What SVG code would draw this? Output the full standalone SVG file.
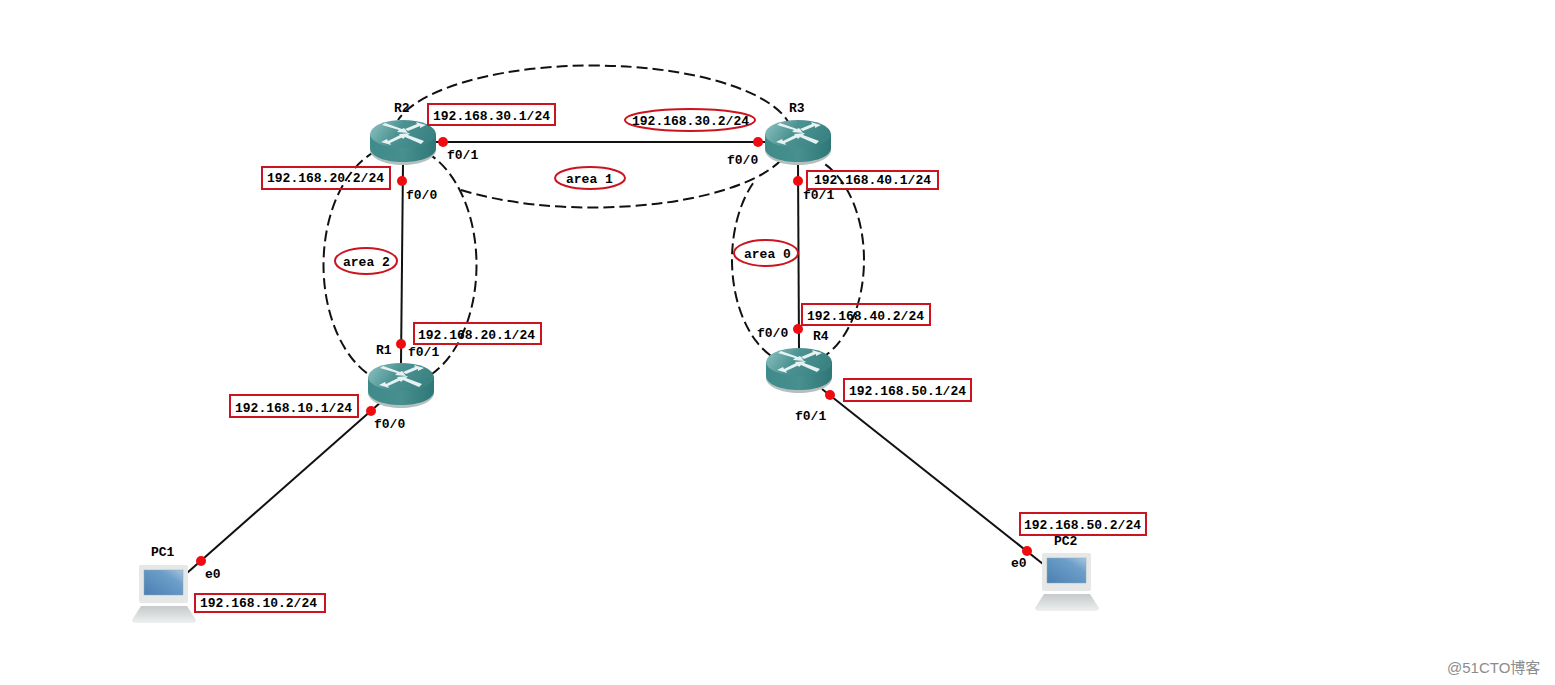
<svg xmlns="http://www.w3.org/2000/svg" width="1555" height="685" viewBox="0 0 1555 685">
<style>
text{font-family:"Liberation Mono","DejaVu Sans Mono",monospace;font-size:13px;font-weight:700;fill:#000}
.ip{fill:none;stroke:#cc1420;stroke-width:2}
.dash{fill:none;stroke:#111;stroke-width:2;stroke-dasharray:11 5}
.link{stroke:#111;stroke-width:2;fill:none}
.dot{fill:#ee0c10}
text.wm{font-family:"Liberation Sans","Noto Sans CJK SC",sans-serif;font-size:15px;font-weight:400;fill:#8c8c8c}
</style>
<defs>
<linearGradient id="rtop" x1="0" y1="0" x2="1" y2="0.3"><stop offset="0" stop-color="#8fc4c4"/><stop offset="0.5" stop-color="#4d9292"/><stop offset="1" stop-color="#3b8383"/></linearGradient>
<linearGradient id="rside" x1="0" y1="0" x2="1" y2="0"><stop offset="0" stop-color="#3f8a8a"/><stop offset="0.5" stop-color="#488f8f"/><stop offset="1" stop-color="#2f7676"/></linearGradient>
<linearGradient id="screen" x1="0" y1="1" x2="1" y2="0"><stop offset="0" stop-color="#4a7fb0"/><stop offset="0.7" stop-color="#6e9fca"/><stop offset="1" stop-color="#a9c6de"/></linearGradient>
<linearGradient id="base" x1="0" y1="0" x2="0" y2="1"><stop offset="0" stop-color="#c6caca"/><stop offset="1" stop-color="#eef0f0"/></linearGradient>
<g id="router">
<path d="M0,14 V29 C0,37 14,44 33,44 C52,44 66,37 66,29 V14Z" fill="#b4c0c0" transform="translate(0,1)"/>
<path d="M0,14 V28 C0,36 14,42 33,42 C52,42 66,36 66,28 V14Z" fill="url(#rside)"/>
<ellipse cx="33" cy="14" rx="33" ry="14" fill="url(#rtop)"/>
<path d="M12,5 L29,10 L27,12 L38,13 L34,8 L32,9 L15,3Z M56,5 L46,2 L47,4 L35,9 L38,11 L50,6 L50,8Z M11,22 L21,25 L20,23 L33,17 L30,15 L18,21 L17,19Z M54,21 L38,15 L40,13 L29,14 L33,19 L35,17 L51,24Z" fill="#e6f2f2"/>
</g>
<g id="pc">
<rect x="7" y="0" width="49" height="38" rx="2" fill="#e6e8e8"/>
<rect x="12" y="5" width="39" height="25" fill="url(#screen)" stroke="#8ea6b8" stroke-width="0.5"/>
<path d="M9,41 H55 L64,55 Q64,58 60,58 H4 Q0,58 0,55Z" fill="url(#base)"/>
</g>
</defs>
<rect width="1555" height="685" fill="#fff"/>
<g id="connectors">
<path class="dash" d="M461,190 A200 71 0 1 0 398,120"/>
<ellipse class="dash" cx="400" cy="265" rx="76.500" ry="120"/>
<path class="dash" d="M753,183.200 A66 105 0 1 0 822,162.200"/>
<path class="link" d="M436,142 H765"/>
<path class="link" d="M403,163 L401,363"/>
<path class="link" d="M798,163 L799,348"/>
<path class="link" d="M381,402 L187,573"/>
<path class="link" d="M822,389 L1043,564"/>
</g>
<g id="R2"><use href="#router" x="370" y="120"/><text x="394" y="112">R2</text></g>
<g id="R3"><use href="#router" x="765" y="120"/><text x="789" y="112">R3</text></g>
<g id="R1"><use href="#router" x="368" y="363"/><text x="376" y="354">R1</text></g>
<g id="R4"><use href="#router" x="766" y="348"/><text x="813" y="340">R4</text></g>
<g id="PC1"><use href="#pc" x="132" y="565"/><text x="151" y="556">PC1</text></g>
<g id="PC2"><use href="#pc" x="1035" y="553"/><text x="1054" y="545">PC2</text></g>
<g id="dots">
<circle class="dot" cx="443" cy="142" r="5"/><circle class="dot" cx="758" cy="142" r="5"/>
<circle class="dot" cx="402" cy="181" r="5"/><circle class="dot" cx="401" cy="344" r="5"/>
<circle class="dot" cx="371" cy="411" r="5"/><circle class="dot" cx="201" cy="561" r="5"/>
<circle class="dot" cx="798" cy="181" r="5"/><circle class="dot" cx="798" cy="329" r="5"/>
<circle class="dot" cx="830" cy="395" r="5"/><circle class="dot" cx="1027" cy="551" r="5"/>
</g>
<g id="ports">
<text x="447" y="159">f0/1</text><text x="406" y="199">f0/0</text>
<text x="408" y="356">f0/1</text><text x="374" y="428">f0/0</text>
<text x="205" y="578">e0</text><text x="727" y="164">f0/0</text>
<text x="803" y="199">f0/1</text><text x="757" y="337">f0/0</text>
<text x="795" y="420">f0/1</text><text x="1011" y="567">e0</text>
</g>
<g id="addresses">
<rect class="ip" x="428" y="104" width="127" height="21"/><text x="433" y="120">192.168.30.1/24</text>
<rect class="ip" x="262" y="167" width="128" height="22"/><text x="267" y="182">192.168.20.2/24</text>
<rect class="ip" x="414" y="323" width="127" height="21"/><text x="418" y="339">192.168.20.1/24</text>
<rect class="ip" x="230" y="395" width="128" height="22"/><text x="235" y="412">192.168.10.1/24</text>
<rect class="ip" x="195" y="594" width="130" height="18"/><text x="200" y="607">192.168.10.2/24</text>
<rect class="ip" x="807" y="171" width="131" height="18"/><text x="814" y="184">192.168.40.1/24</text>
<rect class="ip" x="802" y="304" width="128" height="21"/><text x="807" y="320">192.168.40.2/24</text>
<rect class="ip" x="844" y="379" width="127" height="22"/><text x="849" y="395">192.168.50.1/24</text>
<rect class="ip" x="1020" y="513" width="126" height="22"/><text x="1024" y="529">192.168.50.2/24</text>
<ellipse class="ip" cx="690" cy="120" rx="65" ry="11"/><text x="632" y="125">192.168.30.2/24</text>
<ellipse class="ip" cx="590" cy="178" rx="35" ry="11"/><text x="566" y="183">area 1</text>
<ellipse class="ip" cx="366" cy="261" rx="31" ry="13"/><text x="343" y="266">area 2</text>
<ellipse class="ip" cx="766" cy="253" rx="32" ry="13"/><text x="744" y="258">area 0</text>
</g>
<text class="wm" x="1447" y="673">@51CTO博客</text>
</svg>
